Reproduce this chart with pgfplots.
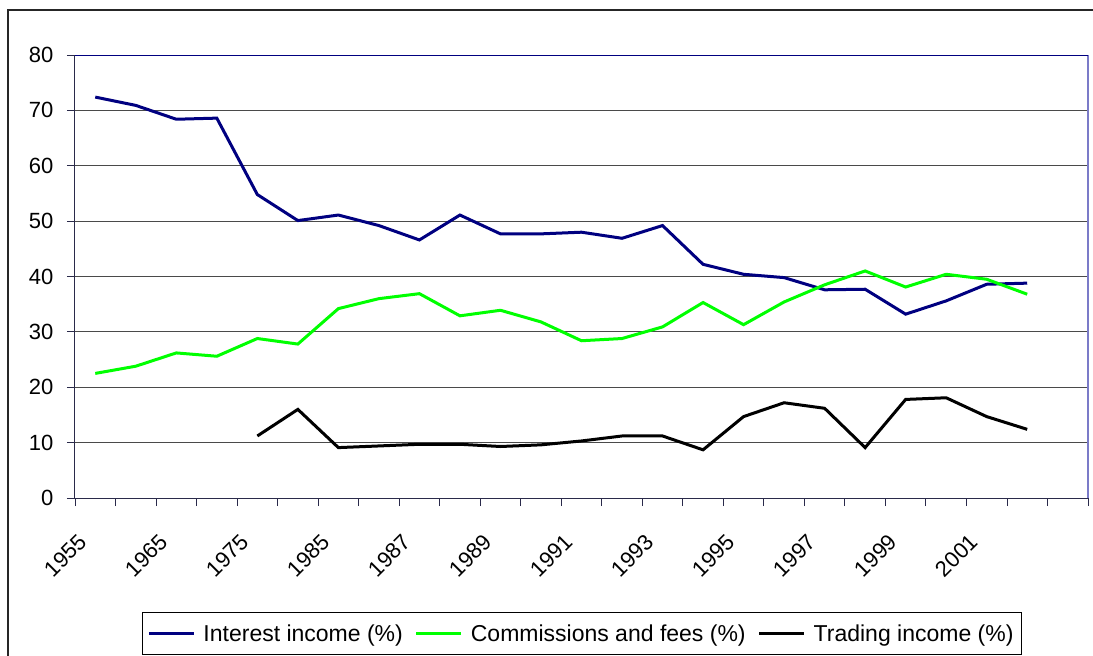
\documentclass[border=0pt]{standalone}
\usepackage{pgfplots}
\pgfplotsset{compat=1.18}
\usepackage{fontspec}
\setmainfont{Liberation Sans}
\definecolor{navy}{HTML}{000080}
\definecolor{lgreen}{HTML}{00FF00}
\definecolor{axisc}{HTML}{2A2A4A}
\definecolor{plotborder}{HTML}{7B7BC8}
\definecolor{gridc}{HTML}{4A4A4A}
\begin{document}
\begin{tikzpicture}[x=1pt,y=1pt]
\useasboundingbox (-75,-158) rectangle (1018,498);
\draw[line width=1.3pt, black!85] (-67,-170) -- (-67,488) -- (1030,488);
\begin{axis}[
  at={(0,0)}, anchor=south west, scale only axis,
  width=1013pt, height=443pt,
  xmin=-0.5, xmax=24.5, ymin=0, ymax=80,
  xtick={-0.5,0.5,...,24.5}, xticklabels={},
  extra x ticks={0,2,...,22},
  extra x tick labels={1955,1965,1975,1985,1987,1989,1991,1993,1995,1997,1999,2001},
  extra x tick style={major tick length=0pt, grid=none},
  xticklabel style={xshift=-12.5pt, yshift=-40pt, rotate=45, anchor=east, inner sep=0pt},
  ytick={0,10,...,80},
  tick align=outside, xtick pos=lower, ytick pos=left,
  major tick length=8pt,
  tick style={axisc, line width=0.9pt},
  ymajorgrids, grid style={gridc, line width=0.9pt},
  axis line style={axisc, line width=1pt},
  tick label style={font=\fontsize{22}{24}\selectfont},
  /pgf/number format/assume math mode=true,
  yticklabel style={xshift=-10pt},
  legend style={at={(0.5,-0.2573)}, anchor=north, legend columns=-1,
    draw=black, line width=0.8pt, font=\fontsize{23}{27}\selectfont,
    inner xsep=5.5pt, inner ysep=10pt,
    /tikz/every even column/.append style={column sep=10pt},
    /tikz/every odd column/.append style={column sep=6pt}},
  legend image code/.code={\draw[#1] (0pt,0pt) -- (45pt,0pt);},
  clip=false,
]
\addplot[navy, line width=3pt] coordinates {
(0,72.4) (1,70.9) (2,68.4) (3,68.6) (4,54.8) (5,50.1) (6,51.1) (7,49.2)
(8,46.6) (9,51.1) (10,47.7) (11,47.7) (12,48.0) (13,46.9) (14,49.2) (15,42.2)
(16,40.4) (17,39.8) (18,37.6) (19,37.7) (20,33.2) (21,35.6) (22,38.6) (23,38.8)
};
\addlegendentry{Interest income (\%)}
\addplot[lgreen, line width=3pt] coordinates {
(0,22.5) (1,23.8) (2,26.2) (3,25.6) (4,28.8) (5,27.8) (6,34.2) (7,36.0)
(8,36.9) (9,32.9) (10,33.9) (11,31.8) (12,28.4) (13,28.8) (14,30.9) (15,35.3)
(16,31.3) (17,35.4) (18,38.5) (19,41.0) (20,38.1) (21,40.4) (22,39.5) (23,36.8)
};
\addlegendentry{Commissions and fees (\%)}
\addplot[black, line width=3pt] coordinates {
(4,11.2) (5,16.0) (6,9.1) (7,9.4) (8,9.7) (9,9.7) (10,9.3) (11,9.6)
(12,10.3) (13,11.2) (14,11.2) (15,8.7) (16,14.7) (17,17.2) (18,16.2) (19,9.1)
(20,17.8) (21,18.1) (22,14.7) (23,12.4)
};
\addlegendentry{Trading income (\%)}
\draw[plotborder, line width=1.5pt] (rel axis cs:1,0) -- (rel axis cs:1,1);
\draw[navy, line width=1pt] (rel axis cs:0,1) -- (rel axis cs:1,1);
\end{axis}
\end{tikzpicture}
\end{document}
